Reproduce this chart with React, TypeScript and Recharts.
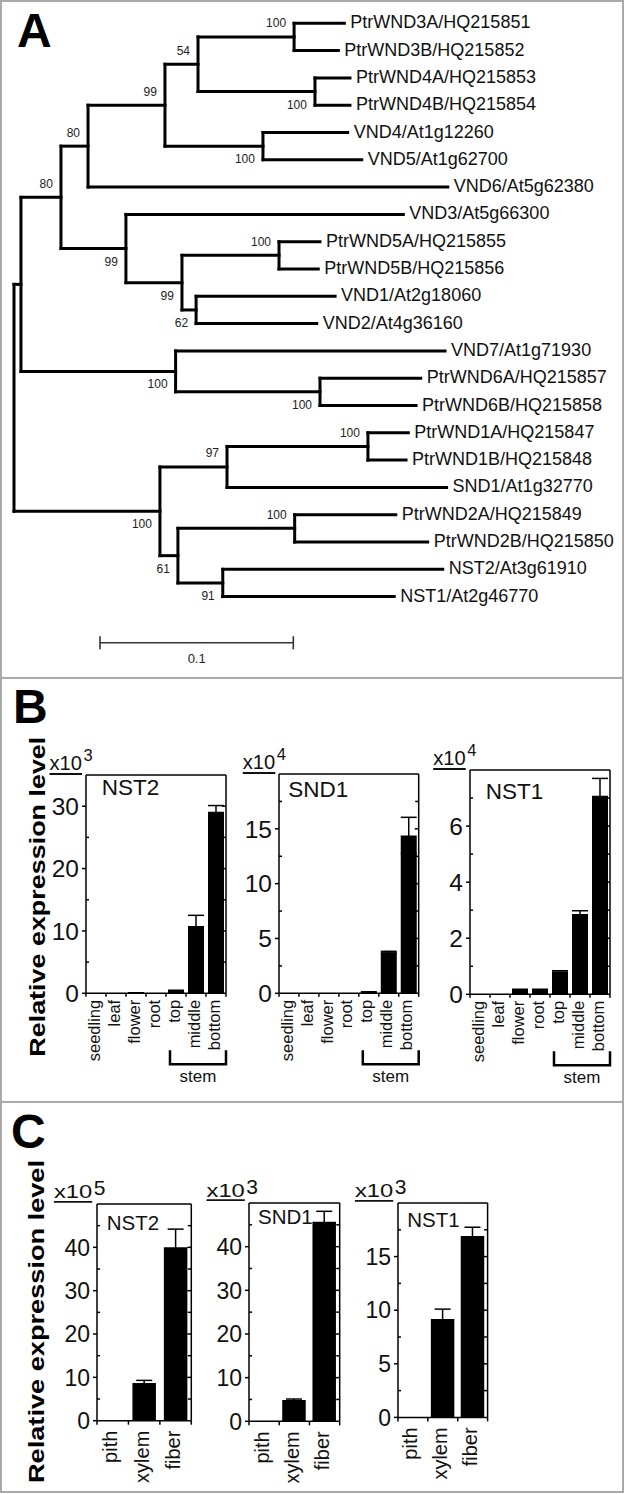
import React from 'react';
import { ScatterChart, Scatter, XAxis, YAxis, ReferenceLine, BarChart, Bar, ErrorBar } from 'recharts';

const FONT = '"Liberation Sans", Arial, Helvetica, sans-serif';
const INK = '#111';

// ---------------- Panel A: phylogenetic tree ----------------
const leafNames = [
  'PtrWND3A/HQ215851', 'PtrWND3B/HQ215852', 'PtrWND4A/HQ215853', 'PtrWND4B/HQ215854',
  'VND4/At1g12260', 'VND5/At1g62700', 'VND6/At5g62380', 'VND3/At5g66300',
  'PtrWND5A/HQ215855', 'PtrWND5B/HQ215856', 'VND1/At2g18060', 'VND2/At4g36160',
  'VND7/At1g71930', 'PtrWND6A/HQ215857', 'PtrWND6B/HQ215858', 'PtrWND1A/HQ215847',
  'PtrWND1B/HQ215848', 'SND1/At1g32770', 'PtrWND2A/HQ215849', 'PtrWND2B/HQ215850',
  'NST2/At3g61910', 'NST1/At2g46770',
];
// distance from root (substitutions per site)
const leafDepths = [
  0.1709, 0.1678, 0.1738, 0.1738, 0.1726, 0.1799, 0.2244, 0.2014, 0.1583, 0.1574, 0.1661,
  0.1566, 0.2230, 0.2104, 0.2080, 0.2040, 0.2028, 0.2238, 0.1975, 0.2140, 0.2218, 0.1967,
];
const nodeIds = ['root', 'n1', 'n2', 'n3', 'n4', 'n5', 'n6', 'n7', 'n8', 'n9', 'n10', 'n11', 'n12', 'n13', 'n14', 'n15', 'n16', 'n17', 'n18', 'n19', 'n20'];
const nodeDepths = [0, 0.0036, 0.0243, 0.0383, 0.0781, 0.0952, 0.1449, 0.1557, 0.1288, 0.0579, 0.0869, 0.1371, 0.0942, 0.0836, 0.1583, 0.0755, 0.1102, 0.1831, 0.0848, 0.1452, 0.1080];
const nodeSupport: (number | null)[] = [null, null, 80, 80, 99, 54, 100, 100, 100, 99, 99, 100, 62, 100, 100, 100, 97, 100, 61, 100, 91];
const nodeChildren: string[][] = [
  ['n1', 'n15'], ['n2', 'n13'], ['n3', 'n9'], ['n4', 'VND6/At5g62380'], ['n5', 'n8'], ['n6', 'n7'],
  ['PtrWND3A/HQ215851', 'PtrWND3B/HQ215852'], ['PtrWND4A/HQ215853', 'PtrWND4B/HQ215854'],
  ['VND4/At1g12260', 'VND5/At1g62700'], ['VND3/At5g66300', 'n10'], ['n11', 'n12'],
  ['PtrWND5A/HQ215855', 'PtrWND5B/HQ215856'], ['VND1/At2g18060', 'VND2/At4g36160'],
  ['VND7/At1g71930', 'n14'], ['PtrWND6A/HQ215857', 'PtrWND6B/HQ215858'], ['n16', 'n18'],
  ['n17', 'SND1/At1g32770'], ['PtrWND1A/HQ215847', 'PtrWND1B/HQ215848'], ['n19', 'n20'],
  ['PtrWND2A/HQ215849', 'PtrWND2B/HQ215850'], ['NST2/At3g61910', 'NST1/At2g46770'],
];
const scaleBarValue = 0.1;
const scaleBarLabel = '0.1';
const scaleBarStart = 0.0445;
const scaleBarRow = 22.69;

function buildTree() {
  const yOf: Record<string, number> = {};
  const xOf: Record<string, number> = {};
  leafNames.forEach((n, i) => { yOf[n] = i; xOf[n] = leafDepths[i]; });
  nodeIds.forEach((id, i) => { xOf[id] = nodeDepths[i]; });
  const getY = (id: string): number => {
    if (id in yOf) return yOf[id];
    const k = nodeIds.indexOf(id);
    const ys = nodeChildren[k].map(getY);
    const y = (ys[0] + ys[ys.length - 1]) / 2;
    yOf[id] = y;
    return y;
  };
  nodeIds.forEach(getY);
  const segments: { x: number; y: number }[][] = [];
  const supports: { x: number; y: number; v: number; above: boolean }[] = [];
  nodeIds.forEach((id, k) => {
    const ch = nodeChildren[k];
    const x = xOf[id];
    segments.push([{ x, y: yOf[ch[0]] }, { x, y: yOf[ch[ch.length - 1]] }]);
    ch.forEach((c, ci) => {
      segments.push([{ x, y: yOf[c] }, { x: xOf[c], y: yOf[c] }]);
      const ck = nodeIds.indexOf(c);
      if (ck >= 0 && nodeSupport[ck] != null) {
        supports.push({ x: xOf[c], y: yOf[c], v: nodeSupport[ck] as number, above: ci === 0 });
      }
    });
  });
  return { segments, supports };
}

const LeafLabel = (p: any) => (
  <text x={p.cx + 6} y={p.cy + 5} fontSize={18} fontFamily={FONT} fill={INK}>{p.payload.name}</text>
);
const SupportLabel = (p: any) => (
  <text x={p.cx - 8} y={p.cy + (p.payload.above ? -9.5 : 17)} fontSize={12} fontFamily={FONT} fill="#222" textAnchor="end">{p.payload.v}</text>
);
const ScaleLabel = (p: any) => (
  <text x={p.cx} y={p.cy + 20} fontSize={13} fontFamily={FONT} fill="#222" textAnchor="middle">{p.payload.label}</text>
);

function TreePanel() {
  const { segments, supports } = buildTree();
  const leafData = leafNames.map((n, i) => ({ x: leafDepths[i], y: i, name: n }));
  const sbEnd = scaleBarStart + scaleBarValue;
  const sbData = [{ x: scaleBarStart + scaleBarValue / 2, y: scaleBarRow, label: scaleBarLabel }];
  return (
    <ScatterChart width={626} height={680} margin={{ top: 0, right: 0, bottom: 0, left: 0 }}>
      <XAxis type="number" dataKey="x" domain={[-14 / 1933, 612 / 1933]} allowDataOverflow hide />
      <YAxis type="number" dataKey="y" domain={[-23.3 / 27.3, 656.7 / 27.3]} allowDataOverflow reversed hide />
      {segments.map((s, i) => (
        <ReferenceLine key={'s' + i} segment={s} stroke="#000" strokeWidth={3} strokeLinecap="square" ifOverflow="visible" />
      ))}
      <ReferenceLine segment={[{ x: scaleBarStart, y: scaleBarRow }, { x: sbEnd, y: scaleBarRow }]} stroke="#333" strokeWidth={1.6} ifOverflow="visible" />
      <ReferenceLine segment={[{ x: scaleBarStart, y: scaleBarRow - 0.24 }, { x: scaleBarStart, y: scaleBarRow + 0.24 }]} stroke="#333" strokeWidth={1.6} ifOverflow="visible" />
      <ReferenceLine segment={[{ x: sbEnd, y: scaleBarRow - 0.24 }, { x: sbEnd, y: scaleBarRow + 0.24 }]} stroke="#333" strokeWidth={1.6} ifOverflow="visible" />
      <Scatter data={leafData} shape={LeafLabel} isAnimationActive={false} />
      <Scatter data={supports} shape={SupportLabel} isAnimationActive={false} />
      <Scatter data={sbData} shape={ScaleLabel} isAnimationActive={false} />
    </ScatterChart>
  );
}

// ---------------- Panels B and C: expression bar charts ----------------
const B_categories = ['seedling', 'leaf', 'flower', 'root', 'top', 'middle', 'bottom'];
const B_stemGroup = ['top', 'middle', 'bottom'];
const B_NST2_values = [0, 0, 0.2, 0, 0.6, 10.8, 29.1];
const B_NST2_errors = [0, 0, 0, 0, 0, 1.7, 1.0];
const B_SND1_values = [0, 0, 0, 0, 0.2, 3.75, 14.4];
const B_SND1_errors = [0, 0, 0, 0, 0, 0.08, 1.65];
const B_NST1_values = [0, 0, 0.21, 0.21, 0.81, 2.86, 7.08];
const B_NST1_errors = [0, 0, 0, 0, 0.03, 0.12, 0.62];
const B_NST2_ticks = [0, 10, 20, 30];
const B_NST2_minor = [5, 15, 25];
const B_SND1_ticks = [0, 5, 10, 15];
const B_SND1_minor = [2.5, 7.5, 12.5, 17.5];
const B_NST1_ticks = [0, 2, 4, 6];
const B_NST1_minor = [1, 3, 5, 7];

const C_categories = ['pith', 'xylem', 'fiber'];
const C_NST2_values = [0, 8.7, 40.0];
const C_NST2_errors = [0, 0.6, 4.2];
const C_SND1_values = [0, 4.9, 45.7];
const C_SND1_errors = [0, 0.2, 2.4];
const C_NST1_values = [0, 9.17, 16.93];
const C_NST1_errors = [0, 0.93, 0.81];
const C_NST2_ticks = [0, 10, 20, 30, 40];
const C_NST2_minor = [5, 15, 25, 35, 45];
const C_SND1_ticks = [0, 10, 20, 30, 40];
const C_SND1_minor = [5, 15, 25, 35, 45];
const C_NST1_ticks = [0, 5, 10, 15];
const C_NST1_minor = [2.5, 7.5, 12.5, 17.5];

type Cfg = {
  name: string; exp: string; cats: string[]; values: number[]; errors: number[];
  ticks: number[]; minor: number[]; max: number; stem?: string[];
  L: number; R: number; T: number; B: number; style: 'B' | 'C';
  nameDx: number; nameDy: number;
};

const charts: Cfg[] = [
  { name: 'NST2', exp: '3', cats: B_categories, values: B_NST2_values, errors: B_NST2_errors, ticks: B_NST2_ticks, minor: B_NST2_minor, max: 35, stem: B_stemGroup, L: 86, R: 226, T: 775, B: 993.3, style: 'B', nameDx: 15.7, nameDy: 20 },
  { name: 'SND1', exp: '4', cats: B_categories, values: B_SND1_values, errors: B_SND1_errors, ticks: B_SND1_ticks, minor: B_SND1_minor, max: 20, stem: B_stemGroup, L: 279.3, R: 419, T: 774, B: 993.3, style: 'B', nameDx: 9, nameDy: 22.7 },
  { name: 'NST1', exp: '4', cats: B_categories, values: B_NST1_values, errors: B_NST1_errors, ticks: B_NST1_ticks, minor: B_NST1_minor, max: 8, stem: B_stemGroup, L: 469.7, R: 609.7, T: 770, B: 994.3, style: 'B', nameDx: 16, nameDy: 29 },
  { name: 'NST2', exp: '5', cats: C_categories, values: C_NST2_values, errors: C_NST2_errors, ticks: C_NST2_ticks, minor: C_NST2_minor, max: 50, L: 96.7, R: 191, T: 1204.3, B: 1421, style: 'C', nameDx: 10, nameDy: 26 },
  { name: 'SND1', exp: '3', cats: C_categories, values: C_SND1_values, errors: C_SND1_errors, ticks: C_SND1_ticks, minor: C_SND1_minor, max: 50, L: 249.3, R: 340, T: 1202.7, B: 1421, style: 'C', nameDx: 8.7, nameDy: 21 },
  { name: 'NST1', exp: '3', cats: C_categories, values: C_NST1_values, errors: C_NST1_errors, ticks: C_NST1_ticks, minor: C_NST1_minor, max: 20, L: 397.7, R: 487.3, T: 1203.3, B: 1417.7, style: 'C', nameDx: 9.6, nameDy: 23.4 },
];

const STYLE = {
  B: { tickFont: 24.5, catFont: 16.5, catGap: 6.5, bTick: 3.5, barSize: 16, MB: 95, nameFont: 22.5 },
  C: { tickFont: 23, catFont: 20, catGap: 10, bTick: 4, barSize: 23.5, MB: 70, nameFont: 20.5 },
};
const ML = 45;
const MR = 12;
const MT = 6;
const AX = { stroke: '#000', strokeWidth: 1.5 };

function BarPanel({ cfg }: { cfg: Cfg }) {
  const st = STYLE[cfg.style];
  const n = cfg.cats.length;
  const data = cfg.cats.map((c, i) => ({ name: c, v: cfg.values[i], e: cfg.errors[i] }));
  const yTicks = [...cfg.ticks, ...cfg.minor].sort((a, b) => a - b);
  const plotW = cfg.R - cfg.L;
  const bw = plotW / n;
  const W = plotW + ML + MR;
  const H = cfg.B - cfg.T + MT + st.MB;
  const stemFirst = cfg.stem ? cfg.cats.indexOf(cfg.stem[0]) : -1;
  const stemLast = cfg.stem ? cfg.cats.indexOf(cfg.stem[cfg.stem.length - 1]) : -1;

  // category labels, boundary ticks and the "stem" bracket, placed from the category scale
  const catTick = (p: any) => {
    const idx = cfg.cats.indexOf(p.payload.value);
    const x = p.x;
    const y = p.y;
    const ln = (xx: number, k: string) => (
      <line key={k} x1={xx} y1={y} x2={xx} y2={y + st.bTick} stroke="#000" strokeWidth={1.5} />
    );
    const parts: any[] = [ln(x - bw / 2, 'l')];
    if (idx === n - 1) parts.push(ln(x + bw / 2, 'r'));
    parts.push(
      <text key="t" transform={`translate(${x + st.catFont * 0.22},${y + st.catGap}) rotate(-90)`} textAnchor="end" fontSize={st.catFont} fontFamily={FONT} fill={INK}>{p.payload.value}</text>
    );
    if (idx === stemLast && stemFirst >= 0) {
      const x1 = x - (stemLast - stemFirst) * bw - 0.3 * bw;
      const x2 = x + 0.5 * bw;
      const yb = y + 71;
      parts.push(<path key="b" d={`M${x1},${yb - 14} V${yb} H${x2} V${yb - 14}`} fill="none" stroke="#000" strokeWidth={2.5} />);
      parts.push(<text key="s" x={(x1 + x2) / 2} y={y + 88.5} textAnchor="middle" fontSize={17} fontFamily={FONT} fill={INK}>stem</text>);
    }
    return <g>{parts}</g>;
  };

  // value labels with outward major ticks, inward minor ticks, and inward ticks on the right frame
  const valueTick = (p: any) => {
    const v = p.payload.value;
    const x = p.x;
    const y = p.y;
    const major = cfg.ticks.indexOf(v) >= 0;
    const xr = x + plotW;
    return (
      <g>
        {major ? <line x1={x - 4} y1={y} x2={x} y2={y} stroke="#000" strokeWidth={1.5} /> : <line x1={x} y1={y} x2={x + 3} y2={y} stroke="#000" strokeWidth={1.5} />}
        {major ? <text x={x - 7} y={y + st.tickFont * 0.36} textAnchor="end" fontSize={st.tickFont} fontFamily={FONT} fill={INK}>{String(v)}</text> : null}
        {v > 0 ? <line x1={xr - (major ? 4 : 3.5)} y1={y} x2={xr} y2={y} stroke="#000" strokeWidth={1.5} /> : null}
      </g>
    );
  };

  return (
    <div style={{ position: 'absolute', left: cfg.L - ML, top: cfg.T - MT }}>
      <BarChart width={W} height={H} data={data} margin={{ top: MT, right: MR, left: 0, bottom: 0 }}>
        <XAxis xAxisId="cat" dataKey="name" type="category" interval={0} height={st.MB}
          tickSize={0} tickMargin={0} tickLine={false} axisLine={AX} tick={catTick} />
        <YAxis yAxisId="L" orientation="left" type="number" domain={[0, cfg.max]} allowDataOverflow ticks={yTicks} interval={0}
          width={ML} tickSize={0} tickMargin={0} tickLine={false} axisLine={AX} tick={valueTick} />
        <YAxis yAxisId="R" orientation="right" mirror type="number" domain={[0, cfg.max]} allowDataOverflow
          axisLine={AX} tickLine={false} tick={false} />
        <ReferenceLine xAxisId="cat" yAxisId="L" y={cfg.max} stroke="#000" strokeWidth={1.5} />
        <Bar xAxisId="cat" yAxisId="L" dataKey="v" fill="#000" barSize={st.barSize} isAnimationActive={false}>
          <ErrorBar dataKey="e" width={8} stroke="#000" strokeWidth={1.5} direction="y" />
        </Bar>
      </BarChart>
    </div>
  );
}

function Annotations() {
  const border = '#a9a9a9';
  return (
    <svg width={626} height={1494} style={{ position: 'absolute', left: 0, top: 0, pointerEvents: 'none' }}>
      <rect x={1} y={1} width={622} height={677} fill="none" stroke={border} strokeWidth={2} />
      <rect x={1} y={678} width={622} height={424} fill="none" stroke={border} strokeWidth={2} />
      <rect x={1} y={1102} width={622} height={390} fill="none" stroke={border} strokeWidth={2} />
      <text x={17} y={47} fontSize={48} fontWeight="bold" fontFamily={FONT} fill="#000">A</text>
      <text x={13} y={723} fontSize={48} fontWeight="bold" fontFamily={FONT} fill="#000">B</text>
      <text x={11} y={1148} fontSize={48} fontWeight="bold" fontFamily={FONT} fill="#000">C</text>
      <text transform="translate(45,896.7) rotate(-90)" textAnchor="middle" fontSize={22} fontWeight="bold" fontFamily={FONT} fill="#000" textLength={320} lengthAdjust="spacingAndGlyphs">Relative expression level</text>
      <text transform="translate(43.5,1321.5) rotate(-90)" textAnchor="middle" fontSize={22} fontWeight="bold" fontFamily={FONT} fill="#000" textLength={323} lengthAdjust="spacingAndGlyphs">Relative expression level</text>
      {charts.map((c, i) => {
        const isB = c.style === 'B';
        const w = isB ? 32.5 : 38.3;
        const x0 = c.L - (isB ? 4 : 4.5) - w;
        const base = c.T - (isB ? 5.5 : 6);
        return (
          <g key={i}>
            <text x={x0} y={base} fontSize={isB ? 19.5 : 17.5} fontFamily={FONT} fill={INK} textLength={w} lengthAdjust="spacingAndGlyphs">x10</text>
            <line x1={x0} x2={x0 + w} y1={c.T - (isB ? 1 : 2.5)} y2={c.T - (isB ? 1 : 2.5)} stroke={INK} strokeWidth={1.8} />
            <text x={x0 + w + 1.5} y={isB ? c.T - 14.5 : c.T - 9} fontSize={isB ? 16.5 : 21} fontFamily={FONT} fill={INK}>{c.exp}</text>
            <text x={c.L + c.nameDx} y={c.T + c.nameDy} fontSize={STYLE[c.style].nameFont} fontFamily={FONT} fill={INK}>{c.name}</text>
          </g>
        );
      })}
    </svg>
  );
}

export default function App() {
  return (
    <div style={{ position: 'absolute', left: 0, top: 0, width: 626, height: 1494, background: '#fff', fontFamily: FONT, overflow: 'hidden' }}>
      <div style={{ position: 'absolute', left: 0, top: 0 }}>
        <TreePanel />
      </div>
      {charts.map((c, i) => <BarPanel key={i} cfg={c} />)}
      <Annotations />
    </div>
  );
}
